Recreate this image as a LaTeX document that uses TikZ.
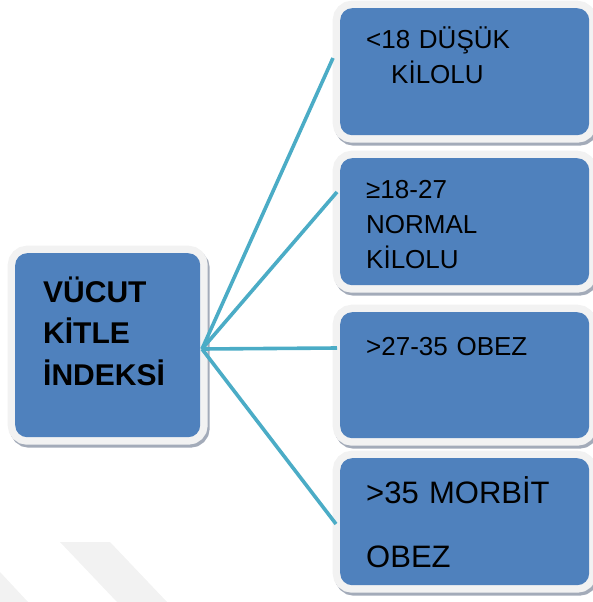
\documentclass[tikz,border=0pt]{standalone}
\usepackage{fontspec}
\setmainfont{Liberation Sans}
\definecolor{boxblue}{HTML}{4F81BD}
\definecolor{linkteal}{HTML}{4BACC6}
\definecolor{framegray}{HTML}{F2F2F2}
\definecolor{shadegray}{HTML}{A3ABB9}
\definecolor{markgray}{HTML}{F2F2F2}
\begin{document}
\begin{tikzpicture}[x=1pt, y=-1pt,
    bmibox/.style={anchor=north west, fill=boxblue, rounded corners=12pt,
      inner xsep=26pt, inner ysep=0pt, align=left, text=black,
      preaction={draw=shadegray, line width=15pt, transform canvas={shift={(2pt,-3pt)}}},
      preaction={draw=framegray, line width=15pt}},
    catbox/.style={bmibox, text width=197pt, font=\fontsize{26}{35}\selectfont},
    link/.style={draw=linkteal, line width=3.6pt}]
  \useasboundingbox (0,0) rectangle (593,602);
  % faint background stripes
  \fill[markgray] (60,542) -- (110,542) -- (167,602) -- (117,602) -- cycle;
  \fill[markgray] (0,572) -- (0,602) -- (28,602) -- cycle;
  % main box
  \node[bmibox, text width=129pt, inner xsep=28pt, text height=49pt, text depth=135pt,
        font=\bfseries\fontsize{30}{41.5}\selectfont] (kitle) at (15,253)
        {VÜCUT\\KİTLE\\İNDEKSİ};
  % categories
  \node[catbox, text height=40pt, text depth=87pt] (dusuk) at (340,8)
        {<18 DÜŞÜK\\\hspace*{25pt}KİLOLU};
  \node[catbox, text height=40pt, text depth=87pt] (normal) at (340,158)
        {≥18-27\\NORMAL\\KİLOLU};
  \node[catbox, text height=43pt, text depth=83pt] (obez) at (340,312)
        {>27-35 OBEZ};
  \node[catbox, text height=45pt, text depth=82pt,
        font=\fontsize{31}{64}\selectfont] (morbit) at (340,458)
        {>35 MORBİT\\OBEZ};
  % connector ends
  \coordinate (hub) at (202,349);
  \coordinate (e1) at (333,58);
  \coordinate (e2) at (337,192);
  \coordinate (e3) at (337,348);
  \coordinate (e4) at (336,524);
  \foreach \e in {e1,e2,e3,e4}
    \draw[link] (hub) -- (\e);
\end{tikzpicture}
\end{document}
